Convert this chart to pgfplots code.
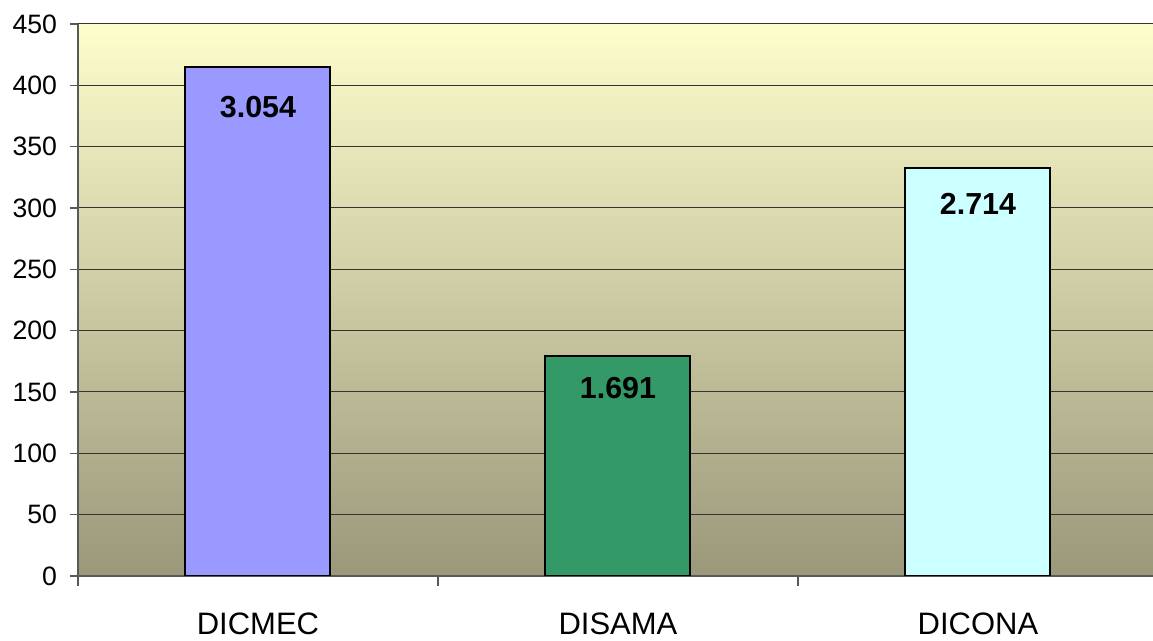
\documentclass[border=0pt]{standalone}
\usepackage{fontspec}
\setmainfont{Liberation Sans}
\usepackage{pgfplots}
\pgfplotsset{compat=1.18}
\definecolor{bgtop}{HTML}{FEFDCC}
\definecolor{bgbot}{HTML}{9A987A}
\definecolor{barA}{HTML}{9999FF}
\definecolor{barB}{HTML}{339966}
\definecolor{barC}{HTML}{CCFFFF}
\begin{document}
\begin{tikzpicture}
\begin{axis}[
    scale only axis,
    width=540pt, height=276pt,
    xmin=-0.5, xmax=2.5,
    ymin=0, ymax=450,
    ytick distance=50,
    axis lines=left,
    axis line style={-, gray!70!black, line width=0.6pt},
    ymajorgrids,
    grid style={black!80, line width=0.5pt},
    xtick={0,1,2},
    xticklabels={DICMEC, DISAMA, DICONA},
    major x tick style={draw=none},
    minor xtick={-0.5,0.5,1.5,2.5},
    tick align=outside,
    major tick length=4pt,
    minor tick length=5pt,
    tick style={gray!70!black, line width=0.6pt},
    minor tick style={gray!70!black, line width=0.6pt},
    x tick label style={font=\fontsize{15.5}{18}\selectfont, yshift=-11pt},
    y tick label style={font=\fontsize{13.3}{16}\selectfont, xshift=-3pt},
    /pgf/number format/assume math mode=true,
    axis background/.style={top color=bgtop, bottom color=bgbot},
    ybar, bar width=72.5pt, bar shift=0pt,
    every node near coord/.append style={anchor=center, yshift=-18pt,
        font=\fontsize{15.2}{18}\selectfont\bfseries, text=black},
]
\addplot[fill=barA, draw=black, line width=1pt, nodes near coords={3.054},
    every node near coord/.append style={yshift=-2pt}] coordinates {(0,415)};
\addplot[fill=barB, draw=black, line width=1pt, nodes near coords={1.691},
    every node near coord/.append style={yshift=2pt}] coordinates {(1,179)};
\addplot[fill=barC, draw=black, line width=1pt, nodes near coords={2.714}] coordinates {(2,333)};
\end{axis}
\pgfresetboundingbox
\path (-39pt,-32.5pt) rectangle (537.5pt,288pt);
\end{tikzpicture}
\end{document}
